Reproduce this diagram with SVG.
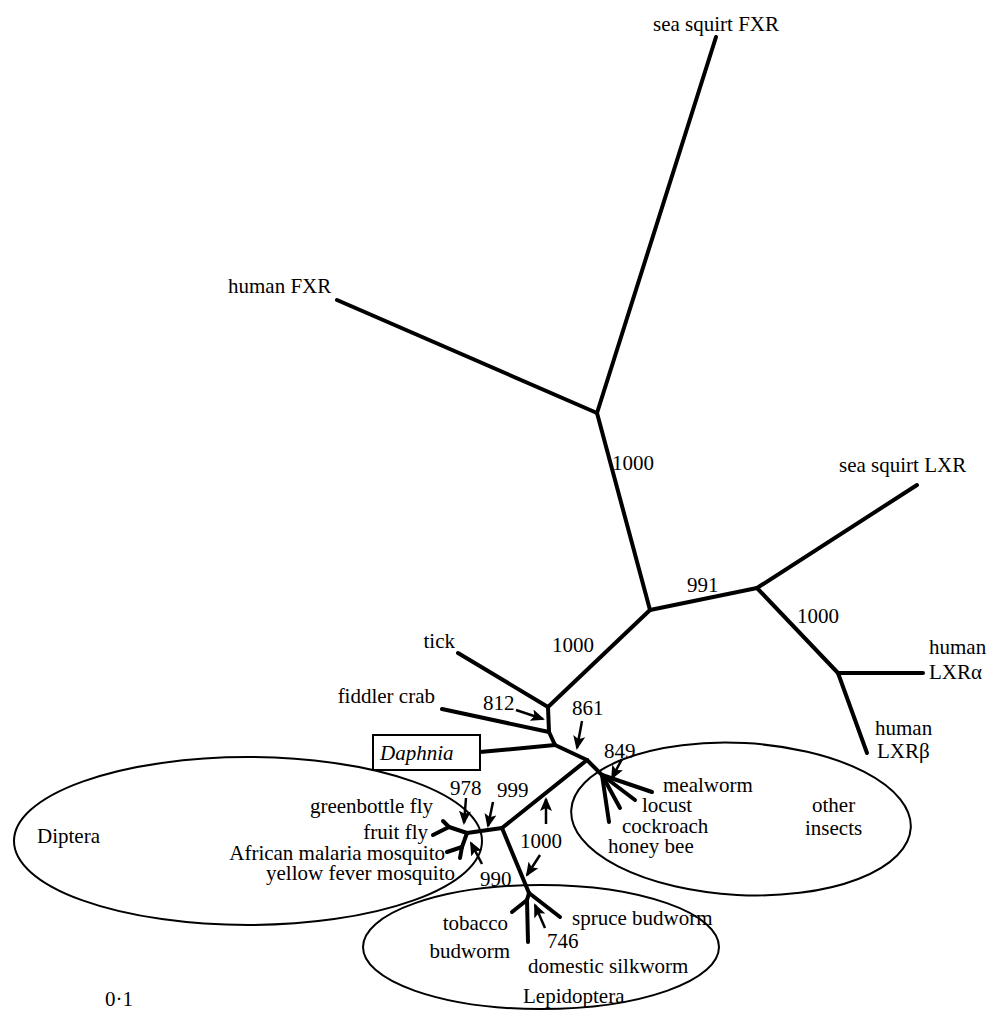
<svg xmlns="http://www.w3.org/2000/svg" width="989" height="1012" viewBox="0 0 989 1012">
<defs>
<style>
text{font-family:"Liberation Serif","Times New Roman",serif;font-size:21px;fill:#000}
.e{text-anchor:end}
.br{stroke:#000;stroke-width:4;stroke-linecap:round;fill:none}
.ar{stroke:#000;stroke-width:2.5;fill:none;marker-end:url(#ah)}
.el{stroke:#000;stroke-width:2;fill:none}
</style>
<marker id="ah" viewBox="0 0 14 12" refX="12" refY="6" markerWidth="14" markerHeight="12" orient="auto" markerUnits="userSpaceOnUse">
<path d="M0,0 L14,6 L0,12 L3,6 Z" fill="#000"/>
</marker>
</defs>
<rect width="989" height="1012" fill="#fff"/>

<g id="groups">
<ellipse id="diptera-group" class="el" cx="248" cy="841" rx="234" ry="84"/>
<ellipse id="insects-group" class="el" cx="741" cy="819" rx="170" ry="76" transform="rotate(3 741 819)"/>
<ellipse id="lepidoptera-group" class="el" cx="541" cy="947" rx="178" ry="62"/>
</g>

<g id="connectors">
<path class="br" d="M716,37 L597,413"/>
<path class="br" d="M337,300 L597,413"/>
<path class="br" d="M597,413 L650,610"/>
<path class="br" d="M650,610 L757,588"/>
<path class="br" d="M757,588 L917,485"/>
<path class="br" d="M757,588 L838,673"/>
<path class="br" d="M838,673 L923,673"/>
<path class="br" d="M838,673 L867,753"/>
<path class="br" d="M650,610 L548,707"/>
<path class="br" d="M458,653 L548,707"/>
<path class="br" d="M548,707 L549,732"/>
<path class="br" d="M442,709 L549,732"/>
<path class="br" d="M549,732 L555,745"/>
<path class="br" d="M480,752 L555,745"/>
<path class="br" d="M555,745 L587,760"/>
<path class="br" d="M587,760 L602,775"/>
<path class="br" d="M602,775 L652,792"/>
<path class="br" d="M602,775 L635,800"/>
<path class="br" d="M602,775 L620,808"/>
<path class="br" d="M602,775 L609,822"/>
<path class="br" d="M587,760 L502,828"/>
<path class="br" d="M502,828 L467,833"/>
<path class="br" d="M467,833 L449,827"/>
<path class="br" d="M449,827 L443,821"/>
<path class="br" d="M449,827 L433,835"/>
<path class="br" d="M467,833 L462,847"/>
<path class="br" d="M462,847 L447,852"/>
<path class="br" d="M462,847 L460,858"/>
<path class="br" d="M502,828 L529,893"/>
<path class="br" d="M529,893 L527,900"/>
<path class="br" d="M527,900 L512,912"/>
<path class="br" d="M527,900 L528,942"/>
<path class="br" d="M529,893 L560,917"/>
</g>

<g id="arrows">
<path class="ar" d="M516,710 L543,719"/>
<path class="ar" d="M582,721 L577,748"/>
<path class="ar" d="M622,759 L612,778"/>
<path class="ar" d="M466,798 L464,823"/>
<path class="ar" d="M493,802 L488,826"/>
<path class="ar" d="M546,824 L546,799"/>
<path class="ar" d="M540,855 L527,875"/>
<path class="ar" d="M482,864 L471,843"/>
<path class="ar" d="M545,928 L535,905"/>
</g>

<g id="labels" font-family="Liberation Serif, Times New Roman, serif">
<text x="653" y="31">sea squirt FXR</text>
<text x="228" y="293">human FXR</text>
<text x="839" y="472">sea squirt LXR</text>
<text x="929" y="654">human</text>
<text x="929" y="679">LXRα</text>
<text x="875" y="735">human</text>
<text x="877" y="758">LXRβ</text>
<text class="e" x="455" y="648">tick</text>
<text class="e" x="435" y="703">fiddler crab</text>
<g id="daphnia">
<rect x="373" y="735" width="107" height="35" fill="#fff" stroke="#000" stroke-width="2"/>
<text x="380" y="760" font-style="italic">Daphnia</text>
</g>
<text class="e" x="433" y="813">greenbottle fly</text>
<text class="e" x="428" y="839">fruit fly</text>
<text class="e" x="445" y="860">African malaria mosquito</text>
<text class="e" x="455" y="880">yellow fever mosquito</text>
<text x="37" y="843">Diptera</text>
<text x="663" y="792">mealworm</text>
<text x="642" y="812">locust</text>
<text x="622" y="833">cockroach</text>
<text x="608" y="853">honey bee</text>
<text x="812" y="812">other</text>
<text x="805" y="835">insects</text>
<text class="e" x="508" y="930">tobacco</text>
<text class="e" x="510" y="958">budworm</text>
<text x="572" y="925">spruce budworm</text>
<text x="528" y="973">domestic silkworm</text>
<text x="523" y="1003">Lepidoptera</text>
<text x="105" y="1006">0·1</text>
</g>

<g id="support" font-family="Liberation Serif, Times New Roman, serif">
<text x="612" y="470">1000</text>
<text x="552" y="652">1000</text>
<text x="687" y="592">991</text>
<text x="797" y="623">1000</text>
<text x="483" y="710">812</text>
<text x="572" y="715">861</text>
<text x="604" y="758">849</text>
<text x="450" y="795">978</text>
<text x="497" y="797">999</text>
<text x="520" y="848">1000</text>
<text x="480" y="886">990</text>
<text x="547" y="948">746</text>
</g>
</svg>
